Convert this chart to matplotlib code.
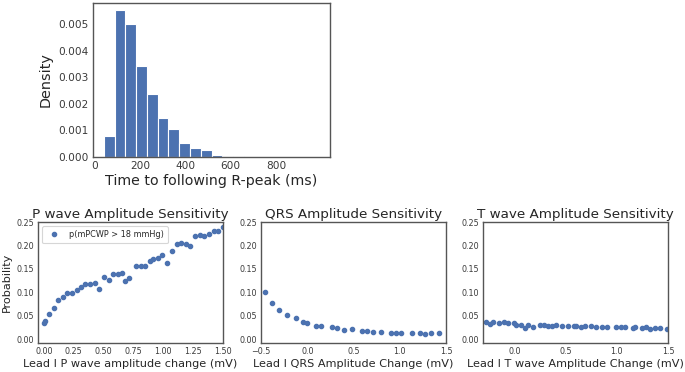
import numpy as np
import matplotlib
matplotlib.use("Agg")
import matplotlib.pyplot as plt

# ---- data ----
hist_edges = np.linspace(41, 991, 21)
hist_density = [0.00078, 0.00553, 0.00500, 0.00341, 0.00236, 0.00146, 0.00104,
                0.00051, 0.00035, 0.00025, 0.00009, 0.00004, 0.00002, 0.00001,
                0.00001, 0.000005, 0.000003, 0.000002, 0.000001, 0.000001]

p_x = [0.0, 0.006, 0.042, 0.082, 0.121, 0.158, 0.197, 0.234, 0.273, 0.310, 0.347,
       0.386, 0.426, 0.462, 0.502, 0.541, 0.578, 0.617, 0.654, 0.677, 0.716, 0.775,
       0.809, 0.849, 0.885, 0.911, 0.953, 0.992, 1.029, 1.069, 1.114, 1.150, 1.187,
       1.224, 1.269, 1.308, 1.345, 1.381, 1.421, 1.460, 1.500]
p_y = [0.0346, 0.0388, 0.054, 0.067, 0.083, 0.090, 0.098, 0.099, 0.1045, 0.112, 0.117,
       0.1165, 0.120, 0.107, 0.132, 0.127, 0.138, 0.138, 0.141, 0.125, 0.131, 0.155,
       0.157, 0.155, 0.166, 0.170, 0.174, 0.179, 0.163, 0.189, 0.202, 0.205, 0.204,
       0.199, 0.220, 0.2225, 0.220, 0.225, 0.230, 0.2316, 0.240]

qrs_x = [-0.460, -0.381, -0.302, -0.223, -0.122, -0.050, 0.0, 0.090, 0.147, 0.270,
         0.320, 0.396, 0.486, 0.594, 0.644, 0.709, 0.795, 0.910, 0.964, 1.014,
         1.129, 1.216, 1.273, 1.342, 1.428]
qrs_y = [0.0996, 0.0763, 0.0614, 0.0508, 0.0452, 0.0367, 0.0346, 0.0282, 0.0282, 0.0247,
         0.0226, 0.0198, 0.0212, 0.0177, 0.0177, 0.0155, 0.0155, 0.0134, 0.0134, 0.0134,
         0.0120, 0.0120, 0.0106, 0.0134, 0.0134]

t_x = [-0.278, -0.233, -0.206, -0.147, -0.102, -0.062, -0.003, 0.020, 0.062, 0.108,
       0.134, 0.187, 0.255, 0.292, 0.331, 0.370, 0.409, 0.468, 0.521, 0.586, 0.606,
       0.655, 0.694, 0.744, 0.796, 0.852, 0.907, 0.996, 1.038, 1.081, 1.160, 1.176,
       1.245, 1.281, 1.327, 1.372, 1.422, 1.490]
t_y = [0.0353, 0.0318, 0.0353, 0.0332, 0.0353, 0.0332, 0.0346, 0.031, 0.030, 0.0226,
       0.029, 0.026, 0.030, 0.029, 0.028, 0.028, 0.031, 0.0275, 0.0275, 0.028, 0.027,
       0.026, 0.027, 0.027, 0.026, 0.025, 0.026, 0.025, 0.025, 0.0254, 0.024, 0.025,
       0.0233, 0.025, 0.022, 0.0233, 0.0233, 0.021]

prob_ticks = [0.00, 0.05, 0.10, 0.15, 0.20, 0.25]

# ---- style ----
blue = '#4c72b0'
txt = '#262626'
plt.rcParams['font.family'] = ['DejaVu Sans']
plt.rcParams['text.color'] = txt
plt.rcParams['axes.labelcolor'] = txt
plt.rcParams['xtick.color'] = '#3a3a3a'
plt.rcParams['ytick.color'] = '#3a3a3a'

fig = plt.figure(figsize=(6.85, 3.72), dpi=100)

def style(ax):
    for s in ax.spines.values():
        s.set_color('#555555')
        s.set_linewidth(1.0)
    ax.tick_params(length=0, pad=3)

# top histogram
axh = fig.add_axes([93/685, 1-157/372, 237/685, 154/372])
widths = np.diff(hist_edges)
axh.bar(hist_edges[:-1], hist_density, width=widths, align='edge',
        color=blue, edgecolor='white', linewidth=0.8)
axh.set_xlim(-6.5, 1038.5)
axh.set_ylim(0, 0.0058)
axh.set_xticks([0, 200, 400, 600, 800])
axh.set_yticks([0.000, 0.001, 0.002, 0.003, 0.004, 0.005])
axh.set_yticklabels(['0.000', '0.001', '0.002', '0.003', '0.004', '0.005'])
axh.tick_params(labelsize=7.6)
axh.set_xlabel('Time to following R-peak (ms)', fontsize=10.2, labelpad=2)
axh.set_ylabel('Density', fontsize=10.4, labelpad=4)
style(axh)

bw, bh = 185/685, 121/372
bb = 1-343/372
ax1 = fig.add_axes([38/685, bb, bw, bh])
ax2 = fig.add_axes([261/685, bb, bw, bh])
ax3 = fig.add_axes([483/685, bb, bw, bh])

ax1.plot(p_x, p_y, 'o', color=blue, markersize=3.0, label='p(mPCWP > 18 mmHg)')
ax1.set_xlim(-0.05, 1.5)
ax1.set_xticks([0.0, 0.25, 0.5, 0.75, 1.0, 1.25, 1.5])
ax1.set_xticklabels(['0.00', '0.25', '0.50', '0.75', '1.00', '1.25', '1.50'])
ax1.set_title('P wave Amplitude Sensitivity', fontsize=9.7, pad=3)
ax1.set_xlabel('Lead I P wave amplitude change (mV)', fontsize=8.1, labelpad=2)
ax1.set_ylabel('Probability', fontsize=8.1, labelpad=3)
leg = ax1.legend(loc='upper left', fontsize=5.9, frameon=True, handletextpad=0.8,
                 borderpad=0.5, borderaxespad=0.5)
leg.get_frame().set_edgecolor('#cccccc')
leg.get_frame().set_linewidth(0.8)

ax2.plot(qrs_x, qrs_y, 'o', color=blue, markersize=3.0)
ax2.set_xlim(-0.5, 1.5)
ax2.set_xticks([-0.5, 0.0, 0.5, 1.0, 1.5])
ax2.set_title('QRS Amplitude Sensitivity', fontsize=9.7, pad=3)
ax2.set_xlabel('Lead I QRS Amplitude Change (mV)', fontsize=8.1, labelpad=2)

ax3.plot(t_x, t_y, 'o', color=blue, markersize=3.0)
ax3.set_xlim(-0.305, 1.5)
ax3.set_xticks([0.0, 0.5, 1.0, 1.5])
ax3.set_title('T wave Amplitude Sensitivity', fontsize=9.7, pad=3)
ax3.set_xlabel('Lead I T wave Amplitude Change (mV)', fontsize=8.1, labelpad=2)

for ax in (ax1, ax2, ax3):
    ax.set_ylim(-0.0085, 0.25)
    ax.set_yticks(prob_ticks)
    ax.set_yticklabels(['%.2f' % v for v in prob_ticks])
    ax.tick_params(labelsize=5.8)
    style(ax)

fig.savefig('out.png', dpi=100)
